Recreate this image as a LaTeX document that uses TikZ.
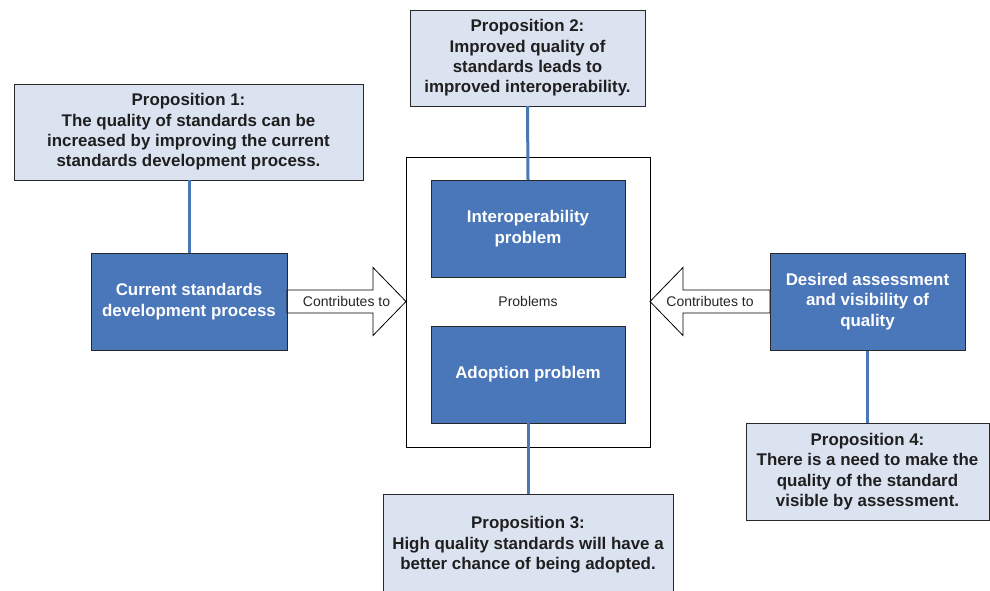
\documentclass[tikz,border=0pt]{standalone}
\usepackage{fontspec}
\setmainfont{Liberation Sans}
\usetikzlibrary{calc}
\definecolor{dblue}{RGB}{74,118,186}
\definecolor{lblue}{RGB}{219,227,241}
\definecolor{bord}{RGB}{40,40,40}
\tikzset{
  prop/.style={draw=bord, line width=1pt, fill=lblue, align=center, outer sep=0pt, inner sep=2pt,
    font=\fontsize{16.9}{20.4}\selectfont\bfseries, text=black!88},
  dbox/.style={draw=bord, line width=1pt, fill=dblue, align=center, outer sep=0pt, inner sep=2pt,
    font=\fontsize{16.9}{20.4}\selectfont\bfseries, text=white, minimum height=97pt},
  link/.style={draw=dblue, line width=3pt},
  bigarrow/.style={draw=black, line width=0.8pt, fill=white, line join=miter},
  lbl/.style={font=\fontsize{14}{16}\selectfont, text=black!85, inner sep=0pt}
}
\begin{document}
\begin{tikzpicture}[x=1pt,y=-1pt]
\useasboundingbox (0,0) rectangle (990,590);
% container
\node[draw=black, line width=1pt, fill=white, minimum width=244pt, minimum height=290pt, outer sep=0pt] (cont) at (528,302) {};
\node[dbox, minimum width=194pt] (inter) at (528,228.5) {Interoperability\\problem};
\node[dbox, minimum width=194pt] (adopt) at (528,374.5) {Adoption problem};
\node[lbl] (probl) at (528,301) {Problems};
% side boxes
\node[dbox, minimum width=196pt] (cur) at (189,301.5) {Current standards\\development process};
\node[dbox, minimum width=195pt] (des) at (867.5,301.5) {Desired assessment\\and visibility of\\quality};
% propositions
\node[prop, minimum width=349pt, minimum height=96pt] (p1) at (188.5,132) {Proposition 1:\\The quality of standards can be\\increased by improving the current\\standards development process.};
\node[prop, minimum width=235pt, minimum height=96pt] (p2) at (527.5,58) {Proposition 2:\\Improved quality of\\standards leads to\\improved interoperability.};
\node[prop, minimum width=290pt, minimum height=100pt] (p3) at (528,544) {};
\node[prop, draw=none, fill=none] (p3t) at (528,545) {Proposition 3:\\High quality standards will have a\\better chance of being adopted.};
\node[prop, minimum width=243pt, minimum height=97pt] (p4) at (867.5,471.5) {Proposition 4:\\There is a need to make the\\quality of the standard\\visible by assessment.};
% links
\draw[link] (p1.south -| cur.north) -- (cur.north);
\draw[link] (p2.south) -- (inter.north);
\draw[link] (adopt.south) -- (p3.north);
\draw[link] (des.south) -- (p4.north);
% arrows
\coordinate (rt) at (cont.west |- cur.east);
\draw[bigarrow] ([yshift=11.5pt]cur.east) -- ([xshift=-33pt,yshift=11.5pt]rt) -- ([xshift=-33pt,yshift=34pt]rt) -- (rt)
  -- ([xshift=-33pt,yshift=-34pt]rt) -- ([xshift=-33pt,yshift=-11.5pt]rt) -- ([yshift=-11.5pt]cur.east) -- cycle;
\node[lbl] (c1) at ($(cur.east)!0.5!(rt)$) {Contributes to};
\coordinate (lt) at (cont.east |- des.west);
\draw[bigarrow] ([yshift=11.5pt]des.west) -- ([xshift=33pt,yshift=11.5pt]lt) -- ([xshift=33pt,yshift=34pt]lt) -- (lt)
  -- ([xshift=33pt,yshift=-34pt]lt) -- ([xshift=33pt,yshift=-11.5pt]lt) -- ([yshift=-11.5pt]des.west) -- cycle;
\node[lbl] (c2) at ($(des.west)!0.5!(lt)$) {Contributes to};
\draw[bord, line width=1pt] (cur.north west) rectangle (cur.south east);
\draw[bord, line width=1pt] (des.north west) rectangle (des.south east);
\end{tikzpicture}
\end{document}
